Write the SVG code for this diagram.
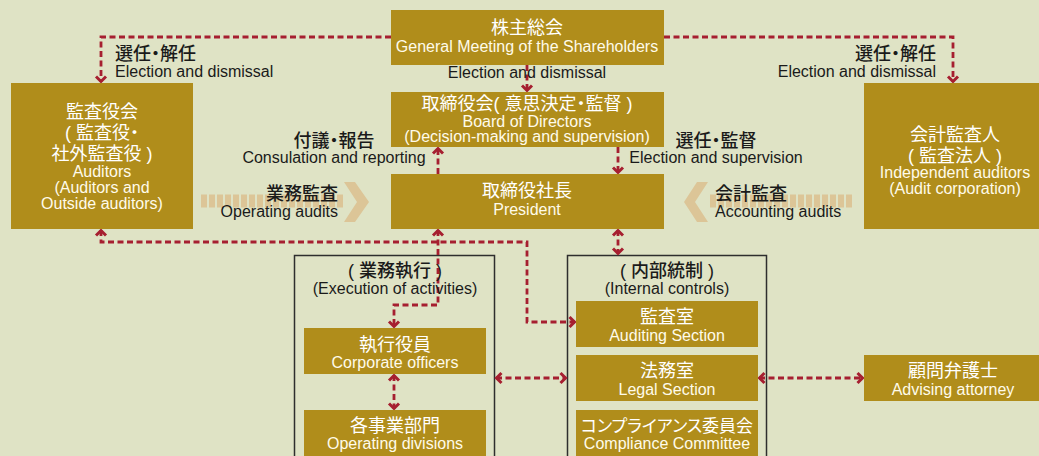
<svg xmlns="http://www.w3.org/2000/svg" width="1039" height="456" viewBox="0 0 1039 456">
<defs>
<style>
.bg{fill:#dfe3c5}
.box{fill:#b08d1b}
.frame{fill:none;stroke:#2e2e2e;stroke-width:1.5}
.jw{font-family:"Liberation Sans","Noto Sans CJK JP",sans-serif;font-size:18px;font-weight:400;fill:#ffffff;text-anchor:middle;font-feature-settings:"palt"}
.ew{font-family:"Liberation Sans","Noto Sans CJK JP",sans-serif;font-size:16px;fill:#fffbea;text-anchor:middle}
.jb{font-family:"Liberation Sans","Noto Sans CJK JP",sans-serif;font-size:18px;font-weight:500;fill:#1a1a1a;font-feature-settings:"palt"}
.eb{font-family:"Liberation Sans","Noto Sans CJK JP",sans-serif;font-size:16px;fill:#1a1a1a}
.mid{text-anchor:middle}
.end{text-anchor:end}
.con{fill:none;stroke:#a61f30;stroke-width:2.8;stroke-dasharray:6 3.5}
.bar{stroke:#dcc597;stroke-width:13;stroke-dasharray:6 2;fill:none}
.chev{fill:#dcc597}
</style>
<marker id="ah" viewBox="-8 -7 10 14" refX="0" refY="0" markerWidth="10" markerHeight="14" markerUnits="userSpaceOnUse" orient="auto-start-reverse">
<path d="M-5.5,-5 L-0.5,0 L-5.5,5" fill="none" stroke="#a61f30" stroke-width="3"/>
</marker>
</defs>
<rect class="bg" x="0" y="0" width="1039" height="456"/>

<g id="block-arrows">
<line class="bar" x1="201" y1="201" x2="343" y2="201"/>
<polygon class="chev" points="344,182 355,182 369,202 355,222 344,222 357,202"/>
<line class="bar" x1="852" y1="201" x2="710" y2="201"/>
<polygon class="chev" points="708,182 697,182 684,202 697,222 708,222 695,202"/>
</g>

<g id="frames">
<rect class="frame" x="294.5" y="255.5" width="200" height="210"/>
<rect class="frame" x="567.5" y="255.5" width="199" height="210"/>
</g>

<g id="connectors">
<path class="con" d="M391,37 H101 V82" marker-end="url(#ah)"/>
<path class="con" d="M664,37 H953 V82" marker-end="url(#ah)"/>
<path class="con" d="M527,65 V91" marker-end="url(#ah)"/>
<path class="con" d="M438,174 V148" marker-end="url(#ah)"/>
<path class="con" d="M618,147 V173" marker-end="url(#ah)"/>
<path class="con" d="M101,230 V242 H527 V322 H575" marker-start="url(#ah)" marker-end="url(#ah)"/>
<path class="con" d="M438,230 V305 H394 V327" marker-start="url(#ah)" marker-end="url(#ah)"/>
<path class="con" d="M618,230 V254" marker-start="url(#ah)" marker-end="url(#ah)"/>
<path class="con" d="M394,375 V409" marker-start="url(#ah)" marker-end="url(#ah)"/>
<path class="con" d="M496,378 H566" marker-start="url(#ah)" marker-end="url(#ah)"/>
<path class="con" d="M759,378 H863" marker-start="url(#ah)" marker-end="url(#ah)"/>
</g>

<g id="labels">
<text class="jb" x="115" y="60">選任・解任</text>
<text class="eb" x="115" y="77">Election and dismissal</text>
<text class="jb end" x="936" y="60">選任・解任</text>
<text class="eb end" x="936" y="77">Election and dismissal</text>
<text class="eb mid" x="527" y="78">Election and dismissal</text>
<text class="jb mid" x="334" y="147">付議・報告</text>
<text class="eb mid" x="334" y="163">Consulation and reporting</text>
<text class="jb mid" x="716" y="147">選任・監督</text>
<text class="eb mid" x="716" y="163">Election and supervision</text>
<text class="jb end" x="338" y="200">業務監査</text>
<text class="eb end" x="338" y="217">Operating audits</text>
<text class="jb" x="715" y="200">会計監査</text>
<text class="eb" x="715" y="217">Accounting audits</text>
<text class="jb mid" x="395" y="277">( 業務執行 )</text>
<text class="eb mid" x="395" y="294">(Execution of activities)</text>
<text class="jb mid" x="667" y="277">( 内部統制 )</text>
<text class="eb mid" x="667" y="294">(Internal controls)</text>
</g>

<g id="shareholders">
<rect class="box" x="391" y="10" width="273" height="55"/>
<text class="jw" x="527" y="34">株主総会</text>
<text class="ew" x="527" y="52">General Meeting of the Shareholders</text>
</g>
<g id="board">
<rect class="box" x="391" y="92" width="273" height="55"/>
<text class="jw" x="527" y="110">取締役会( 意思決定・監督 )</text>
<text class="ew" x="527" y="127">Board of Directors</text>
<text class="ew" x="527" y="142">(Decision-making and supervision)</text>
</g>
<g id="president">
<rect class="box" x="391" y="174" width="273" height="55"/>
<text class="jw" x="527" y="197">取締役社長</text>
<text class="ew" x="527" y="215">President</text>
</g>
<g id="auditors">
<rect class="box" x="11" y="83" width="182" height="146"/>
<text class="jw" x="102" y="118">監査役会</text>
<text class="jw" x="102" y="139">( 監査役・</text>
<text class="jw" x="102" y="160">社外監査役 )</text>
<text class="ew" x="102" y="177">Auditors</text>
<text class="ew" x="102" y="193">(Auditors and</text>
<text class="ew" x="102" y="209">Outside auditors)</text>
</g>
<g id="independent-auditors">
<rect class="box" x="864" y="83" width="180" height="146"/>
<text class="jw" x="955" y="141">会計監査人</text>
<text class="jw" x="955" y="162">( 監査法人 )</text>
<text class="ew" x="955" y="178">Independent auditors</text>
<text class="ew" x="955" y="194">(Audit corporation)</text>
</g>
<g id="corporate-officers">
<rect class="box" x="304" y="328" width="182" height="46"/>
<text class="jw" x="395" y="351">執行役員</text>
<text class="ew" x="395" y="368">Corporate officers</text>
</g>
<g id="operating-divisions">
<rect class="box" x="304" y="410" width="182" height="50"/>
<text class="jw" x="395" y="432">各事業部門</text>
<text class="ew" x="395" y="449">Operating divisions</text>
</g>
<g id="auditing-section">
<rect class="box" x="576" y="301" width="182" height="46"/>
<text class="jw" x="667" y="323">監査室</text>
<text class="ew" x="667" y="341">Auditing Section</text>
</g>
<g id="legal-section">
<rect class="box" x="576" y="355" width="182" height="46"/>
<text class="jw" x="667" y="377">法務室</text>
<text class="ew" x="667" y="395">Legal Section</text>
</g>
<g id="compliance-committee">
<rect class="box" x="576" y="410" width="182" height="50"/>
<text class="jw" x="667" y="432" style="font-size:17px">コンプライアンス委員会</text>
<text class="ew" x="667" y="449">Compliance Committee</text>
</g>
<g id="advising-attorney">
<rect class="box" x="864" y="355" width="180" height="46"/>
<text class="jw" x="953" y="377">顧問弁護士</text>
<text class="ew" x="953" y="395">Advising attorney</text>
</g>
</svg>
